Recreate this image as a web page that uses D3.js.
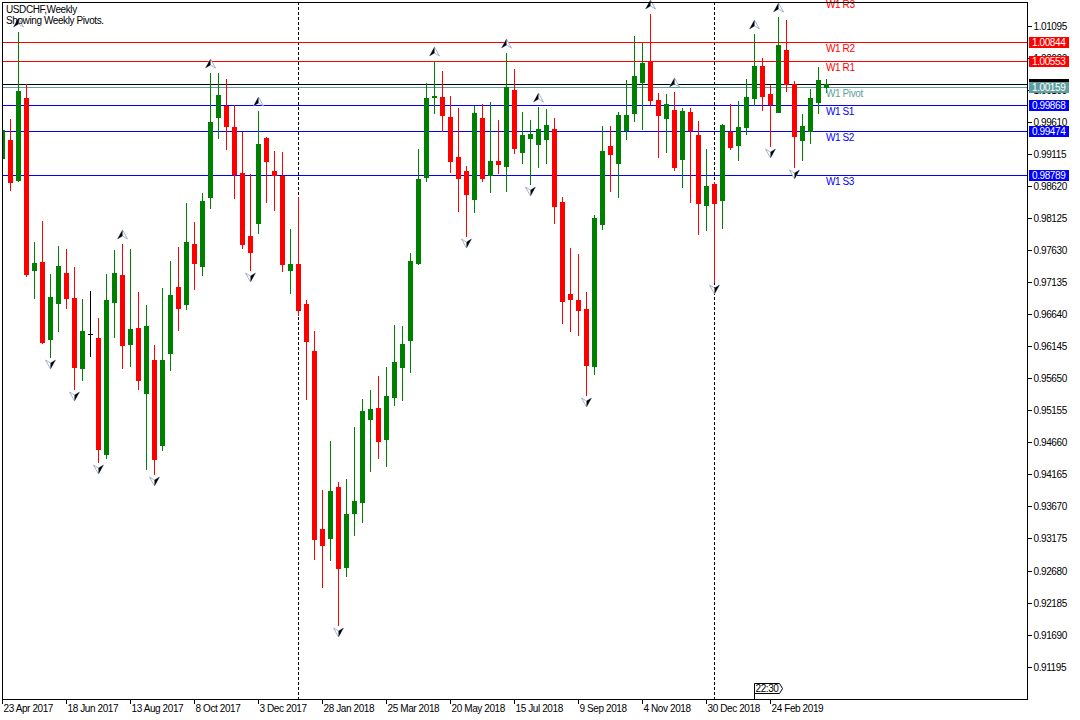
<!DOCTYPE html>
<html><head><meta charset="utf-8">
<script src="https://cdn.jsdelivr.net/npm/d3@7"></script>
<style>
html,body{margin:0;padding:0;background:#fff;}
svg{display:block;font-family:"Liberation Sans",Arial,sans-serif;}
svg text{letter-spacing:-0.4px;}
</style></head><body>
<svg id="c" width="1080" height="720"></svg>
<script>
// ---------- DATA ----------
const symbolTitle = "USDCHF,Weekly";
const subTitle = "Showing Weekly Pivots.";
const startDate = "23 Apr 2017";   // first weekly bar

const open = [
0.99055,0.99333,0.98715,0.99983,0.97329,0.97448,0.96263,0.96819,0.97278,0.96892,
0.95815,0.96331,0.96274,0.94486,0.96835,0.97247,0.96186,0.96428,0.95428,0.95934,
0.94625,0.96046,0.97062,0.96804,0.97726,0.97391,0.98457,0.99694,0.99864,0.99534,
0.98828,0.97855,0.98055,0.99369,0.98859,0.98782,0.97329,0.97422,0.96804,0.96077,
0.93322,0.93187,0.93971,0.92739,0.93574,0.93744,0.95026,0.95192,0.94717,0.95366,
0.95830,0.96247,0.97437,0.98766,0.99998,0.99998,0.99694,0.99075,0.98854,0.98426,
0.99678,0.98793,0.99009,0.98936,1.00111,0.99153,0.99369,0.99276,0.99354,0.99503,
0.98375,0.96958,0.96865,0.96726,0.95846,0.98040,0.99245,0.98983,0.99493,0.99755,
1.00234,1.00554,0.99956,0.99678,0.99802,0.99045,0.99766,0.99411,0.98334,0.98658,
0.98406,0.99462,0.99256,0.99539,0.99987,1.00477,1.00044,0.99771,1.00724,1.00194,
0.99338,0.99477,0.99925,1.00153];
const high = [
0.99534,0.99663,1.01002,1.00199,0.97757,0.98086,0.97263,0.97695,0.97649,0.97371,
0.96876,0.96995,0.96583,0.97263,0.97634,0.97726,0.97649,0.96984,0.96784,0.96165,
0.97046,0.97464,0.97680,0.98360,0.98066,0.98519,1.00369,1.00369,1.00276,0.99874,
0.99462,0.98808,0.99782,0.99380,0.99168,0.99153,0.97963,0.98457,0.96861,0.96386,
0.93925,0.94686,0.94053,0.94090,0.94903,0.95331,0.95470,0.95686,0.95830,0.96474,
0.96459,0.97587,0.99194,1.00214,1.00550,1.00404,1.00013,0.99833,0.98936,0.99864,
0.99890,0.99921,0.99643,1.00683,1.00435,0.99766,0.99643,0.99848,0.99817,0.99673,
0.98457,0.97664,0.97572,0.96984,0.98174,0.99550,0.99554,0.99766,1.00261,1.00945,
1.00837,1.01281,1.00060,1.00044,1.00080,0.99833,0.99833,0.99627,0.99194,0.98689,
0.99581,0.99890,0.99941,1.00276,1.00972,1.00601,1.00183,1.01239,1.01188,1.00245,
0.99735,1.00122,1.00462,1.00276];
const low = [
0.99024,0.98561,0.98705,0.97236,0.96896,0.96196,0.95985,0.96386,0.96742,0.95490,
0.95629,0.95995,0.94362,0.94424,0.96294,0.95815,0.95846,0.95485,0.94254,0.94176,
0.94547,0.95784,0.96402,0.96726,0.97035,0.97252,0.98287,0.99369,0.99199,0.98442,
0.97669,0.97324,0.97901,0.98380,0.98256,0.97309,0.96974,0.96629,0.95336,0.92858,
0.92430,0.92847,0.91843,0.92600,0.93234,0.93435,0.94223,0.94419,0.94300,0.95243,
0.95320,0.95753,0.97422,0.98700,0.99746,0.99473,0.98844,0.98241,0.97855,0.98225,
0.98700,0.98535,0.98824,0.98550,0.99137,0.98983,0.98658,0.98921,0.98983,0.98055,
0.96510,0.96386,0.96325,0.95397,0.95722,0.97963,0.98550,0.98457,0.99354,0.99632,
0.99508,0.99894,0.99075,0.99153,0.98875,0.98612,0.98380,0.97885,0.97947,0.97144,
0.97974,0.99194,0.99024,0.99426,0.99870,0.99797,0.99245,0.99766,1.00091,0.98921,
0.99029,0.99292,0.99755,1.00080];
const close = [
0.99488,0.98689,1.00091,0.97267,0.97433,0.96212,0.96907,0.97386,0.96896,0.95830,
0.96382,0.96331,0.94558,0.96861,0.97278,0.96170,0.96413,0.95629,0.96459,0.94408,
0.95934,0.96938,0.96742,0.97757,0.97437,0.98391,0.99612,1.00029,0.99554,0.98813,
0.97731,0.97603,0.99276,0.99014,0.98793,0.97422,0.97422,0.96711,0.96232,0.93172,
0.93079,0.93909,0.92724,0.93558,0.93755,0.95145,0.95176,0.94686,0.95377,0.95903,
0.96181,0.97464,0.98731,0.99983,1.00013,0.99724,0.99014,0.98751,0.98504,0.99751,
0.98751,0.99009,0.98967,1.00157,0.99214,0.99411,0.99431,0.99508,0.99565,0.98318,
0.96850,0.96881,0.96711,0.95861,0.98128,0.99163,0.99122,0.99720,0.99720,1.00323,
1.00528,0.99956,0.99720,0.99890,0.98921,0.99782,0.99493,0.98365,0.98623,0.98365,
0.99565,0.99230,0.99539,1.00003,1.00477,1.00013,0.99890,1.00802,1.00194,0.99400,
0.99550,0.99983,1.00261,1.00199];

const pivotNames  = ["W1 R3","W1 R2","W1 R1","W1 Pivot","W1 S1","W1 S2","W1 S3"];
const pivotValues = [1.01529,1.00844,1.00553,1.00159,0.99868,0.99474,0.98789];
const pivotKinds  = ["R","R","R","P","S","S","S"];

const fractalUp   = [2,15,26,32,54,63,67,81,84,94,97];
const fractalDown = [6,9,12,19,31,42,58,66,73,89,96,99];

const yTickLabels = ["1.01095","1.00600","1.00105","0.99610","0.99115","0.98620","0.98125",
  "0.97630","0.97135","0.96640","0.96145","0.95650","0.95155","0.94660","0.94165",
  "0.93670","0.93175","0.92680","0.92185","0.91690","0.91195"];
const xTickLabels = ["23 Apr 2017","18 Jun 2017","13 Aug 2017","8 Oct 2017","3 Dec 2017",
  "28 Jan 2018","25 Mar 2018","20 May 2018","15 Jul 2018","9 Sep 2018","4 Nov 2018",
  "30 Dec 2018","24 Feb 2019"];
const separatorDates = ["7 Jan 2018","6 Jan 2019"];
const timeMarker = "22:30";

// ---------- STYLE ----------
const C_UP = "#008000", C_DN = "#ff0000", C_DOJI = "#000000";
const kindColor = {R:"#ff0000", P:"#5f9ea0", S:"#0000ff"};
const FONT = 10;
const FF = '"Liberation Sans",Arial,sans-serif';

// ---------- SCALES ----------
const svg = d3.select("#c");
const parse = d3.utcParse("%d %b %Y");
const t0 = parse(startDate);
const dates = open.map((_, i) => d3.utcDay.offset(t0, 7 * i));
const L = 2, R = 1027, T = 2, B = 699;
const x = d3.scaleUtc().domain([dates[0], dates[dates.length - 1]]).range([2, 826]);
const y = d3.scaleLinear().domain([0.91195, 1.01095]).range([666.6, 26]);
const ry = v => Math.round(y(v));

svg.append("defs").append("clipPath").attr("id", "plot")
  .append("rect").attr("x", L).attr("y", T).attr("width", R - L).attr("height", B - T);

const plot = svg.append("g").attr("clip-path", "url(#plot)");

// period separators
plot.selectAll("line.sep").data(separatorDates).join("line")
  .attr("x1", d => Math.round(x(parse(d))) + 0.5).attr("x2", d => Math.round(x(parse(d))) + 0.5)
  .attr("y1", T).attr("y2", B).attr("stroke", "#000").attr("stroke-dasharray", "3,2");

// pivot lines
const pivots = pivotValues.map((v, i) => ({v, name: pivotNames[i], kind: pivotKinds[i]}));
plot.selectAll("line.piv").data(pivots).join("line")
  .attr("x1", L).attr("x2", R)
  .attr("y1", d => ry(d.v) + 0.5).attr("y2", d => ry(d.v) + 0.5)
  .attr("stroke", d => kindColor[d.kind]).attr("stroke-width", 1);

// bid line
const bid = close[close.length - 1];
plot.append("line").attr("x1", L).attr("x2", R)
  .attr("y1", ry(bid) + 0.5).attr("y2", ry(bid) + 0.5).attr("stroke", "#000");

// candles
const bars = dates.map((d, i) => ({d, o: open[i], h: high[i], l: low[i], c: close[i]}));
const g = plot.append("g").attr("shape-rendering", "crispEdges");
bars.forEach(b => {
  const cx = Math.round(x(b.d));
  const col = b.c > b.o ? C_UP : (b.c < b.o ? C_DN : C_DOJI);
  const yh = ry(b.h), yl = ry(b.l);
  g.append("rect").attr("x", cx).attr("width", 1).attr("y", yh).attr("height", yl - yh + 1).attr("fill", col);
  const yt = ry(Math.max(b.o, b.c)), yb = ry(Math.min(b.o, b.c));
  g.append("rect").attr("x", cx - 2).attr("width", 5).attr("y", yt).attr("height", Math.max(1, yb - yt + 1)).attr("fill", col);
});

// fractal arrows
const arrows = svg.append("g");
fractalUp.forEach(i => {
  const cx = Math.round(x(dates[i])) + 0.5, t = ry(high[i]) - 14;
  arrows.append("path").attr("d", `M${cx},${t}L${cx+5},${t+9}L${cx},${t+6}L${cx-5},${t+9}Z`)
    .attr("fill", "#fff").attr("stroke", "#8ea2c4").attr("stroke-width", 0.8);
  arrows.append("path").attr("d", `M${cx},${t}L${cx},${t+6}L${cx-5},${t+9}Z`).attr("fill", "#000");
});
fractalDown.forEach(i => {
  const cx = Math.round(x(dates[i])) + 0.5, b = ry(low[i]) + 3;
  arrows.append("path").attr("d", `M${cx-5},${b}L${cx},${b+3}L${cx+5},${b}L${cx},${b+9}Z`)
    .attr("fill", "#fff").attr("stroke", "#8ea2c4").attr("stroke-width", 0.8);
  arrows.append("path").attr("d", `M${cx},${b+3}L${cx+5},${b}L${cx},${b+9}Z`).attr("fill", "#000");
});

// pivot text labels
svg.selectAll("text.pl").data(pivots).join("text")
  .attr("x", 826).attr("y", d => ry(d.v) + 10)
  .attr("fill", d => kindColor[d.kind]).attr("font-size", FONT).text(d => d.name);

// frame
svg.append("rect").attr("x", L + 0.5).attr("y", T + 0.5).attr("width", R - L).attr("height", B - T)
  .attr("fill", "none").attr("stroke", "#000").attr("shape-rendering", "crispEdges");

// right axis
const yAxis = d3.axisRight(y).tickValues(yTickLabels.map(Number))
  .tickFormat((d, i) => yTickLabels[i]).tickSize(4).tickPadding(2);
const ya = svg.append("g").attr("transform", `translate(${R + 0.5},0)`).call(yAxis);
ya.select(".domain").remove();
ya.selectAll("text").attr("font-size", FONT).attr("font-family", FF).attr("fill", "#000");
ya.selectAll("line").attr("shape-rendering", "crispEdges");
ya.selectAll(".tick").attr("transform", d => `translate(0,${ry(d) + 0.5})`);

// bottom axis
const xAxis = d3.axisBottom(x).tickValues(xTickLabels.map(parse))
  .tickFormat(d3.utcFormat("%-d %b %Y")).tickSize(4);
const xa = svg.append("g").attr("transform", `translate(0,${B + 0.5})`).call(xAxis);
xa.select(".domain").remove();
xa.selectAll(".tick").attr("transform", d => `translate(${Math.round(x(d)) + 0.5},0)`);
xa.selectAll("line").attr("shape-rendering", "crispEdges");
xa.selectAll("text").attr("font-size", FONT).attr("font-family", FF)
  .attr("fill", "#000").attr("text-anchor", "start").attr("x", 1).attr("y", 12.5).attr("dy", null);

// right price boxes (bid box lies under the pivot box, only its top edge shows)
const bx = svg.append("g");
bx.append("rect").attr("x", 1029).attr("y", ry(bid) - 5).attr("width", 40).attr("height", 11)
  .attr("fill", "#000").attr("shape-rendering", "crispEdges");
pivots.filter(p => p.name !== "W1 R3").forEach(p => {
  const yy = ry(p.v);
  bx.append("rect").attr("x", 1029).attr("y", yy - 5).attr("width", 40).attr("height", 11)
    .attr("fill", kindColor[p.kind]).attr("shape-rendering", "crispEdges");
  bx.append("text").attr("x", 1032).attr("y", yy + 4).attr("font-size", FONT)
    .attr("fill", "#fff").text(d3.format(".5f")(p.v));
});

// time marker box on bottom axis
const tm = svg.append("g");
tm.append("path").attr("d", "M754.5,699V683.5H779.5L782.5,688.5L779.5,693.5H754.5")
  .attr("fill", "#fff").attr("stroke", "#000").attr("stroke-width", 1);
tm.append("text").attr("x", 755.5).attr("y", 692).attr("font-size", FONT).text(timeMarker);

// titles
svg.append("text").attr("x", 6).attr("y", 13).attr("font-size", FONT).text(symbolTitle);
svg.append("text").attr("x", 6).attr("y", 24).attr("font-size", FONT).text(subTitle);
</script>
</body></html>
